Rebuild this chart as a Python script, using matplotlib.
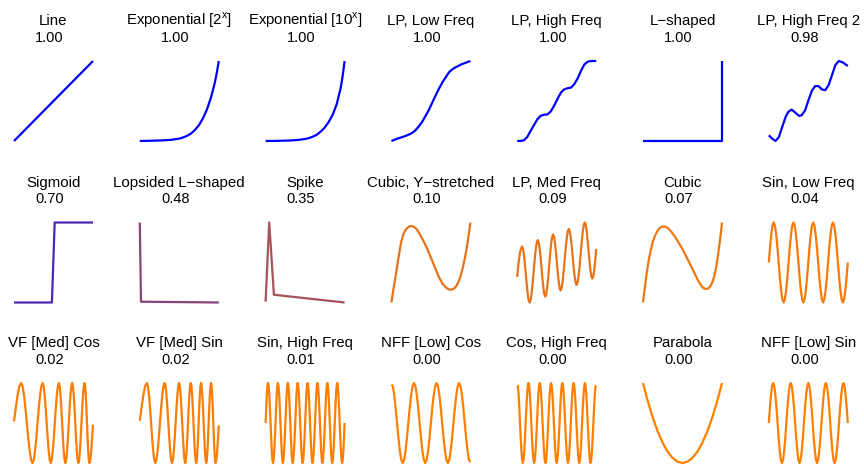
import numpy as np
import matplotlib
matplotlib.use("Agg")
import matplotlib.pyplot as plt
from matplotlib.colors import LinearSegmentedColormap

# ─── 字型設定 ───
plt.rcParams["font.family"] = ["Liberation Sans", "DejaVu Sans"]
plt.rcParams["mathtext.fontset"] = "custom"
plt.rcParams["mathtext.rm"] = "Liberation Sans"

# ─── 面板名稱與分數 ───
names = ["Line", "Exponential [$2^{\\mathrm{x}}$]", "Exponential [$10^{\\mathrm{x}}$]",
         "LP, Low Freq", "LP, High Freq", "L\u2212shaped", "LP, High Freq 2",
         "Sigmoid", "Lopsided L\u2212shaped", "Spike", "Cubic, Y\u2212stretched",
         "LP, Med Freq", "Cubic", "Sin, Low Freq",
         "VF [Med] Cos", "VF [Med] Sin", "Sin, High Freq", "NFF [Low] Cos",
         "Cos, High Freq", "Parabola", "NFF [Low] Sin"]
scores = [1.00, 1.00, 1.00, 1.00, 1.00, 1.00, 0.98,
          0.70, 0.48, 0.35, 0.10, 0.09, 0.07, 0.04,
          0.02, 0.02, 0.01, 0.00, 0.00, 0.00, 0.00]

# ─── 各曲線（自圖上讀取；y 已正規化，x 單位不拘，座標軸依最小/最大值縮放）───
line_x = [0, 1]
line_y = [0, 1]

exp2_x = [0, 0.1, 0.2, 0.3, 0.4, 0.5, 0.55, 0.6, 0.65, 0.7, 0.75, 0.8, 0.85, 0.9, 0.95, 0.975, 1.0]
exp2_y = [0, 0.002, 0.005, 0.008, 0.015, 0.03, 0.045, 0.065, 0.095, 0.14, 0.2, 0.285, 0.395, 0.54, 0.73, 0.855, 1.0]

exp10_x = [0, 0.1, 0.2, 0.3, 0.4, 0.5, 0.55, 0.6, 0.65, 0.7, 0.75, 0.8, 0.85, 0.9, 0.95, 0.975, 1.0]
exp10_y = [0, 0.001, 0.003, 0.006, 0.012, 0.025, 0.037, 0.055, 0.08, 0.12, 0.17, 0.24, 0.33, 0.46, 0.66, 0.81, 1.0]

lplow_x = [0, 0.05, 0.11, 0.17, 0.22, 0.26, 0.30, 0.345, 0.39, 0.43, 0.47, 0.515, 0.56,
           0.605, 0.65, 0.69, 0.73, 0.77, 0.81, 0.85, 0.89, 0.945, 1.0]
lplow_y = [0, 0.02, 0.04, 0.06, 0.08, 0.10, 0.13, 0.18, 0.24, 0.31, 0.38, 0.475, 0.57,
           0.66, 0.74, 0.80, 0.86, 0.895, 0.92, 0.94, 0.96, 0.98, 1.0]

lphigh_x = [0, 0.043, 0.085, 0.128, 0.170, 0.213, 0.255, 0.298, 0.340, 0.383, 0.426,
            0.468, 0.511, 0.553, 0.596, 0.638, 0.681, 0.723, 0.766, 0.809, 0.851,
            0.894, 0.936, 1.0]
lphigh_y = [0.004, 0.005, 0.013, 0.055, 0.131, 0.203, 0.275, 0.318, 0.331, 0.335, 0.373,
            0.445, 0.530, 0.606, 0.648, 0.661, 0.669, 0.712, 0.784, 0.881, 0.958,
            0.992, 1.0, 1.0]

lshape_x = [0, 1, 1]
lshape_y = [0, 0, 1]

lphigh2_x = [0, 0.043, 0.085, 0.128, 0.170, 0.213, 0.247, 0.289, 0.340, 0.383, 0.417,
             0.460, 0.502, 0.545, 0.587, 0.630, 0.672, 0.715, 0.757, 0.800, 0.843,
             0.885, 0.936, 1.0]
lphigh2_y = [0.071, 0.029, 0.0, 0.050, 0.176, 0.301, 0.364, 0.393, 0.351, 0.314, 0.322,
             0.385, 0.510, 0.628, 0.686, 0.686, 0.644, 0.636, 0.699, 0.824, 0.950,
             1.0, 0.983, 0.937]

sig_x = [0, 0.48, 0.515, 1]
sig_y = [0, 0, 1, 1]

lop_x = [0, 0.015, 1]
lop_y = [1, 0.01, 0]

spike_x = [0, 0.046, 0.105, 1]
spike_y = [0.01, 1, 0.097, 0]

cubicy_x = [0, 0.025, 0.05, 0.075, 0.10, 0.125, 0.15, 0.175, 0.20, 0.225, 0.25, 0.275,
            0.30, 0.325, 0.35, 0.375, 0.40, 0.45, 0.50, 0.55, 0.60, 0.65, 0.70, 0.725,
            0.75, 0.775, 0.80, 0.825, 0.85, 0.875, 0.90, 0.925, 0.95, 0.975, 1.0]
cubicy_y = [0, 0.16, 0.31, 0.47, 0.62, 0.76, 0.85, 0.90, 0.93, 0.95, 0.955, 0.95,
            0.935, 0.91, 0.87, 0.825, 0.78, 0.68, 0.56, 0.44, 0.32, 0.23, 0.18, 0.165,
            0.16, 0.165, 0.18, 0.21, 0.26, 0.33, 0.42, 0.53, 0.66, 0.82, 1.0]

lpmed_x = [250, 253.75, 257.5, 261.25, 265,
           267.9, 270.75, 273.6, 276.5, 279.4, 282.25, 285.1, 288,
           291.1, 294.25, 297.4, 300.5, 303.6, 306.75, 309.9, 313,
           315.9, 318.75, 321.6, 324.5, 327.4, 330.25, 333.1, 336,
           339, 342, 345, 348, 351, 354, 357, 360,
           362.9, 365.75, 368.6, 371.5, 374.4, 377.25, 380.1, 383,
           386.1, 389.25, 392.4, 395.5, 398.6, 401.75, 404.9, 408,
           411, 414, 417, 420, 423, 426, 429, 432,
           435.1, 438.25, 441.4, 444.5, 447.6, 450.75, 453.9, 457,
           459.9, 462.75, 465.6, 468.5, 471.4, 474.25, 477.1, 480,
           483, 486, 489, 492]
lpmed_y = [0.32, 0.48, 0.60, 0.67, 0.70,
           0.672, 0.595, 0.483, 0.35, 0.217, 0.105, 0.028, 0.0,
           0.031, 0.117, 0.242, 0.39, 0.538, 0.663, 0.749, 0.78,
           0.752, 0.674, 0.561, 0.428, 0.294, 0.181, 0.103, 0.075,
           0.106, 0.191, 0.315, 0.463, 0.61, 0.734, 0.819, 0.85,
           0.822, 0.745, 0.633, 0.50, 0.367, 0.255, 0.178, 0.15,
           0.181, 0.266, 0.389, 0.535, 0.681, 0.805, 0.889, 0.92,
           0.892, 0.815, 0.703, 0.57, 0.437, 0.325, 0.248, 0.22,
           0.251, 0.337, 0.462, 0.61, 0.758, 0.883, 0.969, 1.0,
           0.972, 0.895, 0.783, 0.65, 0.517, 0.405, 0.328, 0.30,
           0.327, 0.403, 0.516, 0.67]

cubic_x = [0, 0.025, 0.05, 0.075, 0.10, 0.125, 0.15, 0.175, 0.20, 0.225, 0.25, 0.275,
           0.30, 0.325, 0.35, 0.40, 0.45, 0.50, 0.55, 0.60, 0.65, 0.70, 0.725, 0.75,
           0.775, 0.80, 0.825, 0.85, 0.875, 0.90, 0.925, 0.95, 0.975, 1.0]
cubic_y = [0, 0.20, 0.39, 0.54, 0.66, 0.76, 0.83, 0.88, 0.92, 0.94, 0.95, 0.95,
           0.94, 0.92, 0.895, 0.83, 0.75, 0.665, 0.57, 0.47, 0.37, 0.27, 0.23, 0.195,
           0.175, 0.17, 0.175, 0.20, 0.245, 0.32, 0.43, 0.59, 0.78, 1.0]

sinlow_y = [0.5, 0.69, 0.85, 0.96, 1, 0.96, 0.85, 0.69, 0.5, 0.31, 0.15, 0.04, 0, 0.04, 0.15, 0.31,
            0.5, 0.69, 0.85, 0.96, 1, 0.96, 0.85, 0.69, 0.5, 0.31, 0.15, 0.04, 0, 0.04, 0.15, 0.31,
            0.5, 0.69, 0.85, 0.96, 1, 0.96, 0.85, 0.69, 0.5, 0.31, 0.15, 0.04, 0, 0.04, 0.15, 0.31,
            0.5, 0.69, 0.85, 0.96, 1, 0.96, 0.85, 0.69, 0.5, 0.31, 0.15, 0.04, 0, 0.04, 0.15, 0.31,
            0.5]

vfcos_x = [40, 45.5, 51, 56.5, 62,
           66.4, 70.75, 75.1, 79.5, 83.9, 88.25, 92.6, 97,
           100.9, 104.75, 108.6, 112.5, 116.4, 120.25, 124.1, 128,
           131.1, 134.25, 137.4, 140.5, 143.6, 146.75, 149.9, 153,
           156.1, 159.25, 162.4, 165.5, 168.6, 171.75, 174.9, 178,
           180.5, 183, 185.5, 188, 190.5, 193, 195.5, 198,
           200.6, 203.25, 205.9, 208.5, 211.1, 213.75, 216.4, 219,
           221.4, 223.75, 226.1, 228.5, 230.9, 233.25, 235.6, 238,
           240.4, 242.75, 245.1, 247.5, 249.9, 252.25, 254.6, 257,
           258.9, 260.75, 262.6, 264.5, 266.4, 268.25, 270.1, 272,
           274.75, 277.5, 280.25, 283]
vfcos_y = [0.52, 0.69, 0.85, 0.96, 1,
           0.96, 0.85, 0.69, 0.5, 0.31, 0.15, 0.04, 0,
           0.04, 0.15, 0.31, 0.5, 0.69, 0.85, 0.96, 1,
           0.96, 0.85, 0.69, 0.5, 0.31, 0.15, 0.04, 0,
           0.04, 0.15, 0.31, 0.5, 0.69, 0.85, 0.96, 1,
           0.96, 0.85, 0.69, 0.5, 0.31, 0.15, 0.04, 0,
           0.04, 0.15, 0.31, 0.5, 0.69, 0.85, 0.96, 1,
           0.96, 0.85, 0.69, 0.5, 0.31, 0.15, 0.04, 0,
           0.04, 0.15, 0.31, 0.5, 0.69, 0.85, 0.96, 1,
           0.96, 0.85, 0.69, 0.5, 0.31, 0.15, 0.04, 0,
           0.04, 0.15, 0.31, 0.48]

vfsin_x = [415, 420.5, 426, 431.5, 437,
           440.25, 443.5, 446.75, 450, 453.25, 456.5, 459.75, 463,
           466.6, 470.25, 473.9, 477.5, 481.1, 484.75, 488.4, 492,
           494.9, 497.75, 500.6, 503.5, 506.4, 509.25, 512.1, 515,
           517.75, 520.5, 523.25, 526, 528.75, 531.5, 534.25, 537,
           539.4, 541.75, 544.1, 546.5, 548.9, 551.25, 553.6, 556,
           558.1, 560.25, 562.4, 564.5, 566.6, 568.75, 570.9, 573,
           575.1, 577.25, 579.4, 581.5, 583.6, 585.75, 587.9, 590,
           591.9, 593.75, 595.6, 597.5, 599.4, 601.25, 603.1, 605,
           607, 609, 611, 613, 615, 617, 619, 621,
           622.9, 624.75, 626.6, 628.5, 630.4, 632.25, 634.1, 636,
           637.75, 639.5, 641.25, 643, 644.75, 646.5, 648.25, 650,
           652.5, 655, 657.5, 660]
vfsin_y = [0.53, 0.69, 0.85, 0.96, 1,
           0.96, 0.85, 0.69, 0.5, 0.31, 0.15, 0.04, 0,
           0.04, 0.15, 0.31, 0.5, 0.69, 0.85, 0.96, 1,
           0.96, 0.85, 0.69, 0.5, 0.31, 0.15, 0.04, 0,
           0.04, 0.15, 0.31, 0.5, 0.69, 0.85, 0.96, 1,
           0.96, 0.85, 0.69, 0.5, 0.31, 0.15, 0.04, 0,
           0.04, 0.15, 0.31, 0.5, 0.69, 0.85, 0.96, 1,
           0.96, 0.85, 0.69, 0.5, 0.31, 0.15, 0.04, 0,
           0.04, 0.15, 0.31, 0.5, 0.69, 0.85, 0.96, 1,
           0.96, 0.85, 0.69, 0.5, 0.31, 0.15, 0.04, 0,
           0.04, 0.15, 0.31, 0.5, 0.69, 0.85, 0.96, 1,
           0.96, 0.85, 0.69, 0.5, 0.31, 0.15, 0.04, 0,
           0.04, 0.15, 0.31, 0.47]

sinhigh_y = [0.5, 0.69, 0.85, 0.96, 1, 0.96, 0.85, 0.69, 0.5, 0.31, 0.15, 0.04, 0, 0.04, 0.15, 0.31,
             0.5, 0.69, 0.85, 0.96, 1, 0.96, 0.85, 0.69, 0.5, 0.31, 0.15, 0.04, 0, 0.04, 0.15, 0.31,
             0.5, 0.69, 0.85, 0.96, 1, 0.96, 0.85, 0.69, 0.5, 0.31, 0.15, 0.04, 0, 0.04, 0.15, 0.31,
             0.5, 0.69, 0.85, 0.96, 1, 0.96, 0.85, 0.69, 0.5, 0.31, 0.15, 0.04, 0, 0.04, 0.15, 0.31,
             0.5, 0.69, 0.85, 0.96, 1, 0.96, 0.85, 0.69, 0.5, 0.31, 0.15, 0.04, 0, 0.04, 0.15, 0.31,
             0.5, 0.69, 0.85, 0.96, 1, 0.96, 0.85, 0.69, 0.5, 0.31, 0.15, 0.04, 0, 0.04, 0.15, 0.31,
             0.5, 0.69, 0.85, 0.96, 1, 0.96, 0.85, 0.69, 0.5, 0.31, 0.15, 0.04, 0, 0.04, 0.15, 0.31,
             0.5, 0.69, 0.85, 0.96, 1, 0.96, 0.85, 0.69, 0.5, 0.31, 0.15, 0.04, 0, 0.04, 0.15, 0.31,
             0.5]

nffcos_y = [0.98, 0.96, 0.85, 0.69, 0.5, 0.31, 0.15, 0.04, 0, 0.04, 0.15, 0.31, 0.5, 0.69, 0.85, 0.96,
            1, 0.96, 0.85, 0.69, 0.5, 0.31, 0.15, 0.04, 0, 0.04, 0.15, 0.31, 0.5, 0.69, 0.85, 0.96,
            1, 0.96, 0.85, 0.69, 0.5, 0.31, 0.15, 0.04, 0, 0.04, 0.15, 0.31, 0.5, 0.69, 0.85, 0.96,
            1, 0.96, 0.85, 0.69, 0.5, 0.31, 0.15, 0.04, 0.01]

coshigh_y = [0.97, 0.96, 0.85, 0.69, 0.5, 0.31, 0.15, 0.04, 0, 0.04, 0.15, 0.31, 0.5, 0.69, 0.85, 0.96,
             1, 0.96, 0.85, 0.69, 0.5, 0.31, 0.15, 0.04, 0, 0.04, 0.15, 0.31, 0.5, 0.69, 0.85, 0.96,
             1, 0.96, 0.85, 0.69, 0.5, 0.31, 0.15, 0.04, 0, 0.04, 0.15, 0.31, 0.5, 0.69, 0.85, 0.96,
             1, 0.96, 0.85, 0.69, 0.5, 0.31, 0.15, 0.04, 0, 0.04, 0.15, 0.31, 0.5, 0.69, 0.85, 0.96,
             1, 0.96, 0.85, 0.69, 0.5, 0.31, 0.15, 0.04, 0, 0.04, 0.15, 0.31, 0.5, 0.69, 0.85, 0.96,
             1, 0.96, 0.85, 0.69, 0.5, 0.31, 0.15, 0.04, 0, 0.04, 0.15, 0.31, 0.5, 0.69, 0.85, 0.96,
             1, 0.96, 0.85, 0.69, 0.5, 0.31, 0.15, 0.04, 0, 0.04, 0.15, 0.31, 0.5, 0.69, 0.85, 0.96,
             0.97]

parab_x = [0, 0.0625, 0.125, 0.1875, 0.25, 0.3125, 0.375, 0.4375, 0.5,
           0.5625, 0.625, 0.6875, 0.75, 0.8125, 0.875, 0.9375, 1.0]
parab_y = [1, 0.766, 0.563, 0.391, 0.25, 0.141, 0.063, 0.016, 0,
           0.016, 0.063, 0.141, 0.25, 0.391, 0.563, 0.766, 1]

nffsin_y = [0.5, 0.69, 0.85, 0.96, 1, 0.96, 0.85, 0.69, 0.5, 0.31, 0.15, 0.04, 0, 0.04, 0.15, 0.31,
            0.5, 0.69, 0.85, 0.96, 1, 0.96, 0.85, 0.69, 0.5, 0.31, 0.15, 0.04, 0, 0.04, 0.15, 0.31,
            0.5, 0.69, 0.85, 0.96, 1, 0.96, 0.85, 0.69, 0.5, 0.31, 0.15, 0.04, 0, 0.04, 0.15, 0.31,
            0.5, 0.69, 0.85, 0.96, 1, 0.96, 0.85, 0.69, 0.5, 0.31, 0.15, 0.04, 0, 0.04, 0.15, 0.31,
            0.5, 0.69, 0.85, 0.96, 1, 0.96, 0.85, 0.69, 0.5]


def even(y):
    """等距取樣的 x"""
    return np.linspace(0, 1, len(y))


curves = [(line_x, line_y), (exp2_x, exp2_y), (exp10_x, exp10_y), (lplow_x, lplow_y),
          (lphigh_x, lphigh_y), (lshape_x, lshape_y), (lphigh2_x, lphigh2_y),
          (sig_x, sig_y), (lop_x, lop_y), (spike_x, spike_y), (cubicy_x, cubicy_y),
          (lpmed_x, lpmed_y), (cubic_x, cubic_y), (even(sinlow_y), sinlow_y),
          (vfcos_x, vfcos_y), (vfsin_x, vfsin_y), (even(sinhigh_y), sinhigh_y),
          (even(nffcos_y), nffcos_y), (even(coshigh_y), coshigh_y),
          (parab_x, parab_y), (even(nffsin_y), nffsin_y)]

# ─── 版面（像素）───
W, H = 864, 465
COL0, COL_STEP, PW = 14, 125.8, 79
ROW_TOPS = [61, 222.5, 383]
PH = 80

cmap = LinearSegmentedColormap.from_list("score", ["#FF8000", "#0000FF"])

fig = plt.figure(figsize=(W / 100, H / 100), dpi=100)
fig.patch.set_facecolor("white")

for i, (name, score, (xs, ys)) in enumerate(zip(names, scores, curves)):
    r, c = divmod(i, 7)
    left = COL0 + c * COL_STEP
    top = ROW_TOPS[r]
    ax = fig.add_axes([left / W, 1 - (top + PH) / H, PW / W, PH / H])
    ax.plot(xs, ys, color=cmap(score), lw=1.6, clip_on=False,
            solid_joinstyle="round", solid_capstyle="butt")
    ax.set_xlim(min(xs), max(xs))
    ax.set_ylim(min(ys), max(ys))
    ax.axis("off")

    cx = left + PW / 2
    fig.text(cx / W, 1 - (top - 36) / H, name, ha="center", va="baseline", fontsize=10.8)
    fig.text((cx - 4) / W, 1 - (top - 19.3) / H, f"{score:.2f}",
             ha="center", va="baseline", fontsize=10.5)

fig.savefig("out.png", dpi=100)
